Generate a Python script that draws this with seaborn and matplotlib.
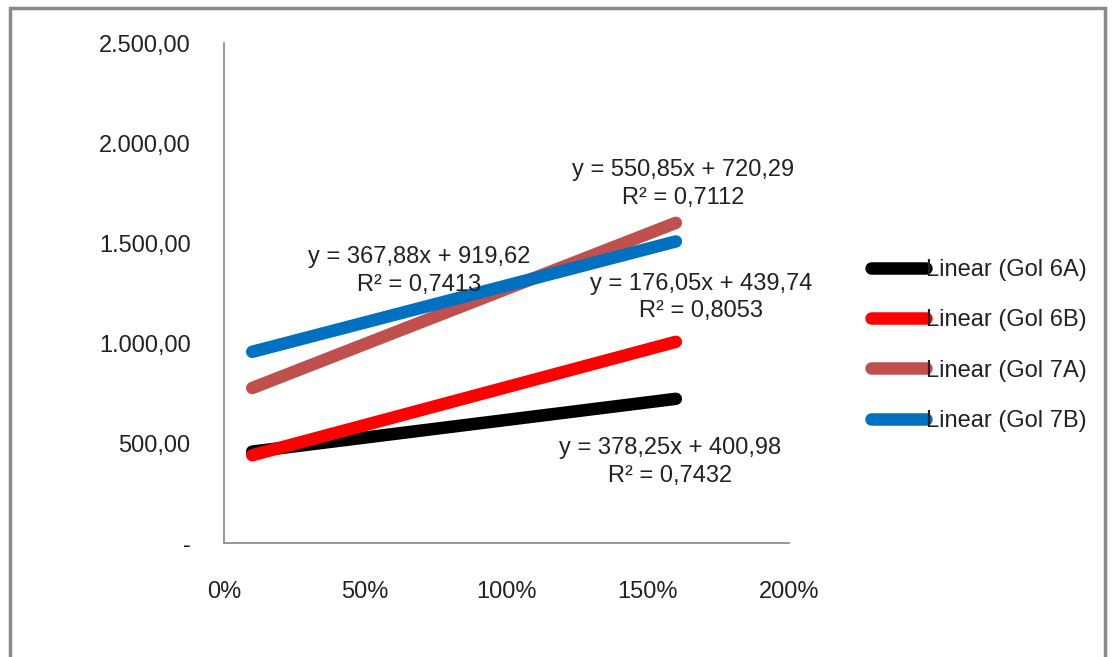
import numpy as np
import pandas as pd
import seaborn as sns
import matplotlib.pyplot as plt
from matplotlib.patches import Rectangle
from matplotlib.ticker import FuncFormatter, FixedLocator

# trend line end points (x as fraction, y value)
x_points = [0.10, 1.60]
gol_6a = [457, 721]
gol_6b = [439, 1006]
gol_7a = [775, 1601]
gol_7b = [956, 1508]

series_names = ["Linear (Gol 6A)", "Linear (Gol 6B)", "Linear (Gol 7A)", "Linear (Gol 7B)"]
series_colors = ["#000000", "#FF0000", "#C0504D", "#0070C0"]

equations = ["y = 367,88x + 919,62\nR² = 0,7413",
             "y = 550,85x + 720,29\nR² = 0,7112",
             "y = 176,05x + 439,74\nR² = 0,8053",
             "y = 378,25x + 400,98\nR² = 0,7432"]
eq_x = [0.69, 1.625, 1.69, 1.58]
eq_y = [1360, 1795, 1227, 405]

x_ticks = [0, 0.5, 1.0, 1.5, 2.0]
y_ticks = [0, 500, 1000, 1500, 2000, 2500]

df = pd.DataFrame({
    "x": x_points * 4,
    "y": gol_6a + gol_6b + gol_7a + gol_7b,
    "serie": [n for n in series_names for _ in x_points],
})

sns.set_style("white")
plt.rcParams["font.family"] = ["Liberation Sans", "DejaVu Sans"]
FS = 17

fig = plt.figure(figsize=(11.12, 6.57), dpi=100)
ax = fig.add_axes([0.2014, 0.1735, 0.508, 0.761])

sns.lineplot(
    data=df, x="x", y="y", hue="serie", hue_order=series_names,
    palette=dict(zip(series_names, series_colors)),
    linewidth=9, solid_capstyle="round", ax=ax, legend=True,
)

for txt, xx, yy in zip(equations, eq_x, eq_y):
    ax.text(xx, yy, txt, ha="center", va="center", fontsize=FS,
            color="#222222", linespacing=1.3, multialignment="center")

ax.set_xlim(0, 2.0)
ax.set_ylim(0, 2500)
ax.xaxis.set_major_locator(FixedLocator(x_ticks))
ax.yaxis.set_major_locator(FixedLocator(y_ticks))
ax.xaxis.set_major_formatter(FuncFormatter(lambda v, p: f"{v * 100:.0f}%"))


def br_fmt(v, p):
    if v == 0:
        return "-"
    s = f"{v:,.2f}"
    return s.replace(",", "X").replace(".", ",").replace("X", ".")


ax.yaxis.set_major_formatter(FuncFormatter(br_fmt))
ax.set_xlabel("")
ax.set_ylabel("")

for side in ["top", "right"]:
    ax.spines[side].set_visible(False)
for side in ["left", "bottom"]:
    ax.spines[side].set_color("#868686")
    ax.spines[side].set_linewidth(1.2)

ax.tick_params(axis="both", direction="out", length=7, width=1.2, color="#868686",
               labelsize=FS, labelcolor="#222222")
ax.tick_params(axis="y", pad=17)
ax.tick_params(axis="x", pad=20.5)

handles, labels = ax.get_legend_handles_labels()
for h in handles:
    h.set_linewidth(9)
    h.set_solid_capstyle("round")
fig.legend(handles, labels, loc="upper left", bbox_to_anchor=(0.764, 0.638),
           frameon=False, fontsize=FS, handlelength=2.35, handletextpad=0.0,
           labelspacing=1.2, labelcolor="#222222")
ax.get_legend().remove()

fig.patches.append(Rectangle((0.009, -0.02), 0.985, 1.008, transform=fig.transFigure,
                             fill=False, edgecolor="#8a8a8a", linewidth=2.5))

fig.savefig("out.png", dpi=100)
